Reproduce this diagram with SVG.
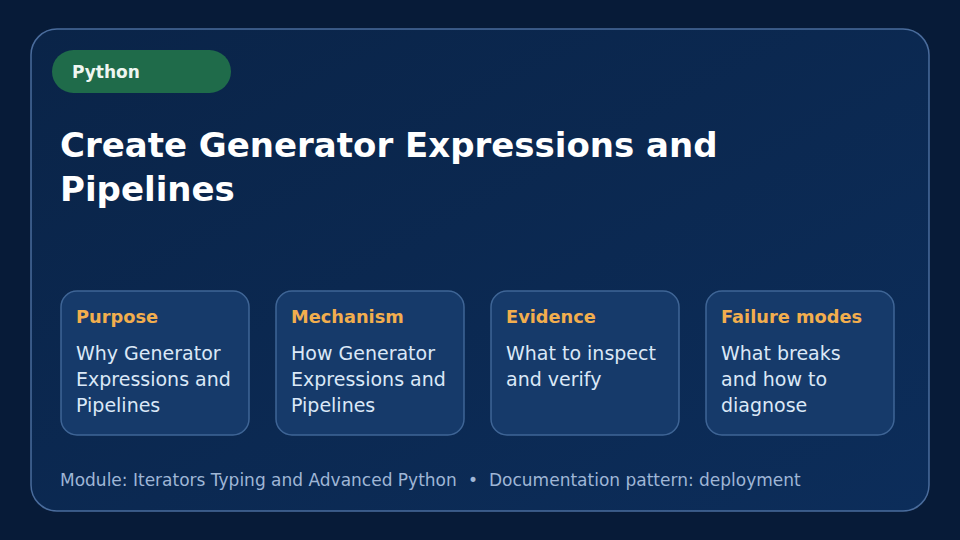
<svg xmlns="http://www.w3.org/2000/svg" width="960" height="540" viewBox="0 0 960 540">
<defs>
<linearGradient id="bg" x1="0" y1="0" x2="1" y2="1"><stop offset="0" stop-color="#0a2448"/><stop offset="1" stop-color="#0c2d5a"/></linearGradient>
</defs>
<style>
text{font-family:"DejaVu Sans","Liberation Sans",sans-serif}
.card{fill:#163a6a;stroke:#3f6596;stroke-width:1.5}
.h{fill:#f2ae4e;font-weight:bold;font-size:17.8px}
.b{fill:#dbe8f7;font-size:19px}
</style>
<rect width="960" height="540" fill="#071b38"/>
<rect x="31" y="29" width="898" height="482" rx="26" fill="url(#bg)" stroke="#4a6c9c" stroke-width="1.5"/>
<g id="tag"><rect x="52" y="50" width="179" height="43" rx="21.5" fill="#1f6b4a"/><text x="72" y="78" fill="#eef6f1" font-weight="bold" font-size="17">Python</text></g>
<g id="title"><text x="60" y="157" fill="#ffffff" font-weight="bold" font-size="34">Create Generator Expressions and</text><text x="60" y="201" fill="#ffffff" font-weight="bold" font-size="34">Pipelines</text></g>
<g id="purpose"><rect class="card" x="61" y="291" width="188" height="144" rx="16"/><text class="h" x="76" y="323">Purpose</text><text class="b" x="76" y="360">Why Generator</text><text class="b" x="76" y="386">Expressions and</text><text class="b" x="76" y="412">Pipelines</text></g>
<g id="mechanism"><rect class="card" x="276" y="291" width="188" height="144" rx="16"/><text class="h" x="291" y="323">Mechanism</text><text class="b" x="291" y="360">How Generator</text><text class="b" x="291" y="386">Expressions and</text><text class="b" x="291" y="412">Pipelines</text></g>
<g id="evidence"><rect class="card" x="491" y="291" width="188" height="144" rx="16"/><text class="h" x="506" y="323">Evidence</text><text class="b" x="506" y="360">What to inspect</text><text class="b" x="506" y="386">and verify</text></g>
<g id="failure"><rect class="card" x="706" y="291" width="188" height="144" rx="16"/><text class="h" x="721" y="323">Failure modes</text><text class="b" x="721" y="360">What breaks</text><text class="b" x="721" y="386">and how to</text><text class="b" x="721" y="412">diagnose</text></g>
<g id="connectors"></g>
<g fill="#9fb6d6" font-size="17"><text x="60" y="486">Module: Iterators Typing and Advanced Python</text><text x="468" y="486">•</text><text x="489" y="486">Documentation pattern: deployment</text></g>
</svg>
